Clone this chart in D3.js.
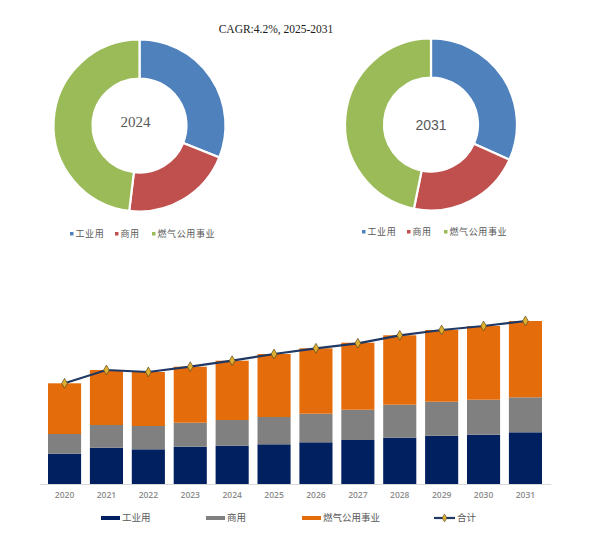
<!DOCTYPE html>
<html>
<head>
<meta charset="utf-8">
<script src="https://cdn.jsdelivr.net/npm/d3@7"></script>
<style>
  body { margin: 0; background: #fff; }
  svg { display: block; }
</style>
</head>
<body>
<div id="chart"></div>
<script>
// data (arbitrary units)
const years = ["2020", "2021", "2022", "2023", "2024", "2025", "2026", "2027", "2028", "2029", "2030", "2031"];
const industrial = [30.3, 36.3, 34.7, 37.3, 38.3, 39.7, 41.7, 44.0, 46.3, 48.3, 49.3, 51.7];
const commercial = [19.7, 22.7, 23.3, 24.0, 25.7, 27.3, 28.6, 30.3, 33.0, 34.0, 35.0, 35.0];
const utility = [50.7, 55.0, 54.0, 56.0, 59.3, 63.0, 65.4, 67.0, 69.4, 71.7, 73.7, 76.3];
const totals = [100.7, 114.0, 112.0, 117.3, 123.3, 130.0, 135.7, 140.7, 148.7, 154.0, 158.0, 163.0];
const seriesNames = ["工业用", "商用", "燃气公用事业"];
const totalName = "合计";
const donutYears = ["2024", "2031"];
const title = "CAGR:4.2%, 2025-2031";

const width = 595, height = 541;
const cjk = "'Noto Sans CJK SC', 'Noto Sans', sans-serif";

const svg = d3.select("#chart").append("svg")
  .attr("width", width)
  .attr("height", height);

// title
svg.append("text")
  .attr("x", 276).attr("y", 33)
  .attr("text-anchor", "middle")
  .style("font-family", "'Liberation Serif', serif")
  .style("font-size", "11.5px")
  .style("fill", "#1a1a1a")
  .text(title);

// ---- donuts ----
const pieColors = ["#4f81bd", "#c0504d", "#9bbb59"];
const pieGen = d3.pie().sort(null).value(d => d);
const arcGen = d3.arc().innerRadius(47).outerRadius(86);

const donuts = [
  { year: donutYears[0], cx: 139.5, cy: 125.5, serif: true, lx: 70, ly: 234 },
  { year: donutYears[1], cx: 431, cy: 124.5, serif: false, lx: 362, ly: 232 }
];

donuts.forEach(dn => {
  const i = years.indexOf(dn.year);
  const vals = [industrial[i], commercial[i], utility[i]];
  const g = svg.append("g").attr("transform", `translate(${dn.cx},${dn.cy})`);
  g.selectAll("path")
    .data(pieGen(vals))
    .enter()
    .append("path")
    .attr("d", arcGen)
    .style("fill", (d, k) => pieColors[k])
    .style("stroke", "#ffffff")
    .style("stroke-width", 2.2);

  g.append("text")
    .attr("text-anchor", "middle")
    .attr("dy", "0.35em")
    .attr("x", dn.serif ? -4 : 0)
    .attr("y", dn.serif ? -4 : 1)
    .style("font-family", dn.serif ? "'Liberation Serif', 'DejaVu Serif', serif" : "'Liberation Sans', sans-serif")
    .style("font-size", dn.serif ? "15px" : "14px")
    .style("fill", "#595959")
    .text(dn.year);

  // legend under each donut
  const offsets = [0, 45, 82];
  const lg = svg.append("g").attr("transform", `translate(${dn.lx},${dn.ly})`);
  seriesNames.forEach((name, k) => {
    lg.append("rect")
      .attr("x", offsets[k]).attr("y", -2)
      .attr("width", 3.5).attr("height", 3.5)
      .style("fill", pieColors[k]);
    lg.append("text")
      .attr("x", offsets[k] + 5.5).attr("y", 0)
      .attr("dy", "0.35em")
      .style("font-family", cjk)
      .style("font-size", "9px")
      .style("letter-spacing", "0.6px")
      .style("fill", "#595959")
      .text(name);
  });
});

// ---- stacked bars ----
const barColors = ["#002060", "#808080", "#e46c0a"];
const x = d3.scaleBand().domain(years).range([39.2, 550.8]).padding(0.21);
const y = d3.scaleLinear().domain([0, 200]).range([484, 284]);

const table = years.map((yr, i) => ({
  year: yr,
  [seriesNames[0]]: industrial[i],
  [seriesNames[1]]: commercial[i],
  [seriesNames[2]]: utility[i]
}));
const stacked = d3.stack().keys(seriesNames)(table);

svg.append("g")
  .selectAll("g")
  .data(stacked)
  .enter()
  .append("g")
  .style("fill", (d, k) => barColors[k])
  .selectAll("rect")
  .data(d => d)
  .enter()
  .append("rect")
  .attr("x", d => x(d.data.year))
  .attr("width", x.bandwidth())
  .attr("y", d => y(d[1]))
  .attr("height", d => y(d[0]) - y(d[1]));

// x axis
const xAxis = svg.append("g")
  .attr("transform", `translate(0,${y(0)})`)
  .call(d3.axisBottom(x).tickSize(0).tickPadding(8));
xAxis.select(".domain").attr("stroke", "#d9d9d9").attr("stroke-width", 1);
xAxis.selectAll("text")
  .style("font-family", "'Open Sans', 'DejaVu Sans', sans-serif")
  .style("font-size", "8.5px")
  .style("font-weight", "600")
  .style("fill", "#8c8c8c");

// total line
const lineColor = "#1f3864";
const line = d3.line()
  .x((d, i) => x(years[i]) + x.bandwidth() / 2)
  .y(d => y(d));
svg.append("path")
  .datum(totals)
  .attr("d", line)
  .style("fill", "none")
  .style("stroke", lineColor)
  .style("stroke-width", 2.2);

const diamond = d3.symbol().type(d3.symbolDiamond).size(28);
svg.append("g")
  .selectAll("path")
  .data(totals)
  .enter()
  .append("path")
  .attr("d", diamond)
  .attr("transform", (d, i) => `translate(${x(years[i]) + x.bandwidth() / 2},${y(d)})`)
  .style("fill", "#e0b030")
  .style("stroke", "#5a4a20")
  .style("stroke-width", 0.7)
  .style("stroke-linejoin", "round");

// bottom legend
const legendY = 518;
const legendItems = [
  { name: seriesNames[0], color: barColors[0], x: 101 },
  { name: seriesNames[1], color: barColors[1], x: 206 },
  { name: seriesNames[2], color: barColors[2], x: 302 }
];
legendItems.forEach(it => {
  svg.append("rect")
    .attr("x", it.x).attr("y", legendY - 2)
    .attr("width", 19).attr("height", 4)
    .style("fill", it.color);
  svg.append("text")
    .attr("x", it.x + 21).attr("y", legendY)
    .attr("dy", "0.35em")
    .style("font-family", cjk)
    .style("font-size", "9.5px")
    .style("fill", "#595959")
    .text(it.name);
});
svg.append("line")
  .attr("x1", 434).attr("x2", 455)
  .attr("y1", legendY).attr("y2", legendY)
  .style("stroke", lineColor)
  .style("stroke-width", 2.2);
svg.append("path")
  .attr("d", d3.symbol().type(d3.symbolDiamond).size(18))
  .attr("transform", `translate(444.5,${legendY})`)
  .style("fill", "#e0b030")
  .style("stroke", "#5a4a20")
  .style("stroke-width", 0.6);
svg.append("text")
  .attr("x", 457).attr("y", legendY)
  .attr("dy", "0.35em")
  .style("font-family", cjk)
  .style("font-size", "9.5px")
  .style("fill", "#595959")
  .text(totalName);
</script>
</body>
</html>
